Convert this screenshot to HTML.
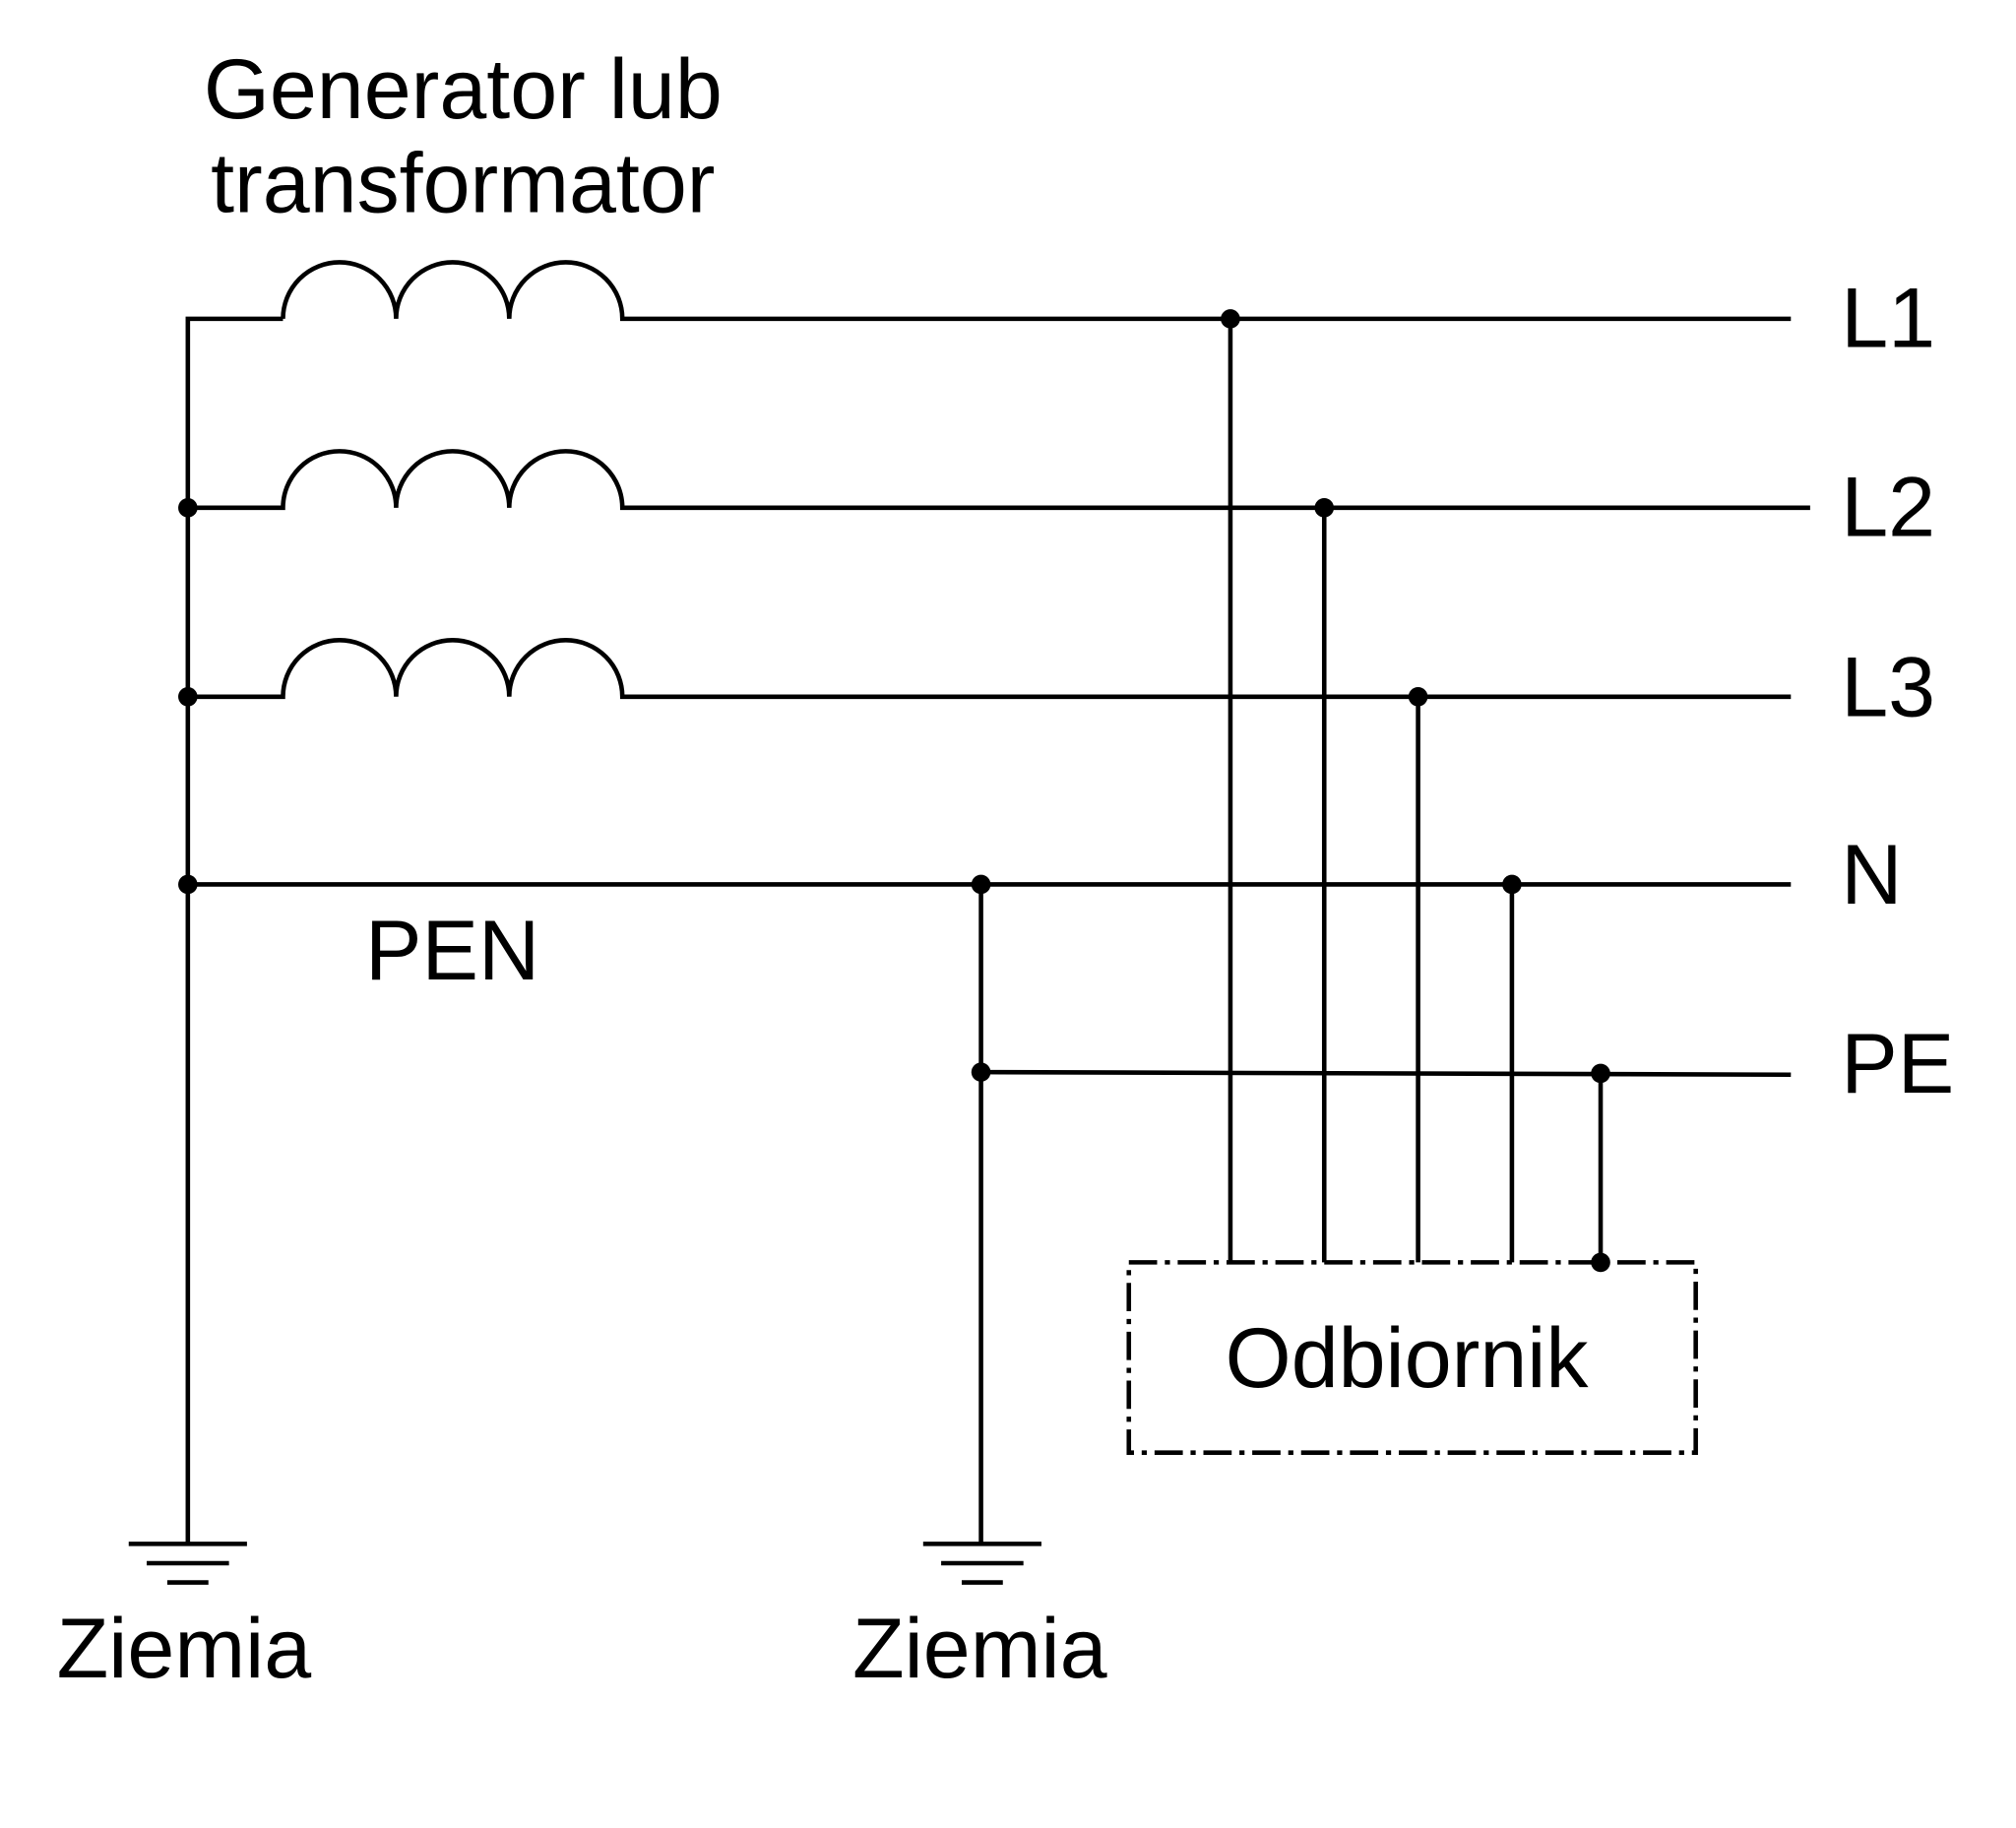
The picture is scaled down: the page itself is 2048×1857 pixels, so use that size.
<!DOCTYPE html>
<html><head><meta charset="utf-8"><style>html,body{margin:0;padding:0;background:#fff}svg{display:block}</style></head>
<body>
<svg width="2048" height="1857" viewBox="0 0 1568 1422" xmlns="http://www.w3.org/2000/svg">
<rect width="1568" height="1422" fill="#fff"/>
<g fill="none" stroke="#000" stroke-width="3.5">
<path d="M146 1200 V248 H220"/>
<path d="M220 248 A44 44 0 0 1 308 248 A44 44 0 0 1 396 248 A44 44 0 0 1 484 248 H1393"/>
<path d="M146 395 H220 A44 44 0 0 1 308 395 A44 44 0 0 1 396 395 A44 44 0 0 1 484 395 H1408"/>
<path d="M146 542 H220 A44 44 0 0 1 308 542 A44 44 0 0 1 396 542 A44 44 0 0 1 484 542 H1393"/>
<path d="M146 688 H1393"/>
<path d="M763 834 L1393 836"/>
<path d="M763 688 V1200"/>
<path d="M957 248 V982 M1030 395 V982 M1103 542 V982 M1176 688 V982 M1245 835 V982"/>
<path d="M100 1201 H192 M114 1216 H178 M130 1231 H162"/>
<path d="M718 1201 H810 M732 1216 H796 M748 1231 H780"/>
<rect x="878" y="982" width="441" height="148" stroke-dasharray="22 6 4 6"/>
</g>
<g fill="#000">
<circle cx="957" cy="248" r="7.5"/>
<circle cx="146" cy="395" r="7.5"/><circle cx="1030" cy="395" r="7.5"/>
<circle cx="146" cy="542" r="7.5"/><circle cx="1103" cy="542" r="7.5"/>
<circle cx="146" cy="688" r="7.5"/><circle cx="763" cy="688" r="7.5"/><circle cx="1176" cy="688" r="7.5"/>
<circle cx="763" cy="834" r="7.5"/><circle cx="1245" cy="835" r="7.5"/><circle cx="1245" cy="982" r="7.5"/>
</g>
<g font-family="Liberation Sans, sans-serif" font-size="66" fill="#000">
<text x="360" y="92" text-anchor="middle">Generator lub</text>
<text x="360" y="165" text-anchor="middle">transformator</text>
<text x="1432" y="270">L1</text>
<text x="1432" y="417">L2</text>
<text x="1432" y="557">L3</text>
<text x="1432" y="703">N</text>
<text x="1432" y="850">PE</text>
<text x="284" y="762">PEN</text>
<text x="44" y="1305">Ziemia</text>
<text x="663" y="1305">Ziemia</text>
<text x="953" y="1079">Odbiornik</text>
</g>
</svg>
</body></html>
